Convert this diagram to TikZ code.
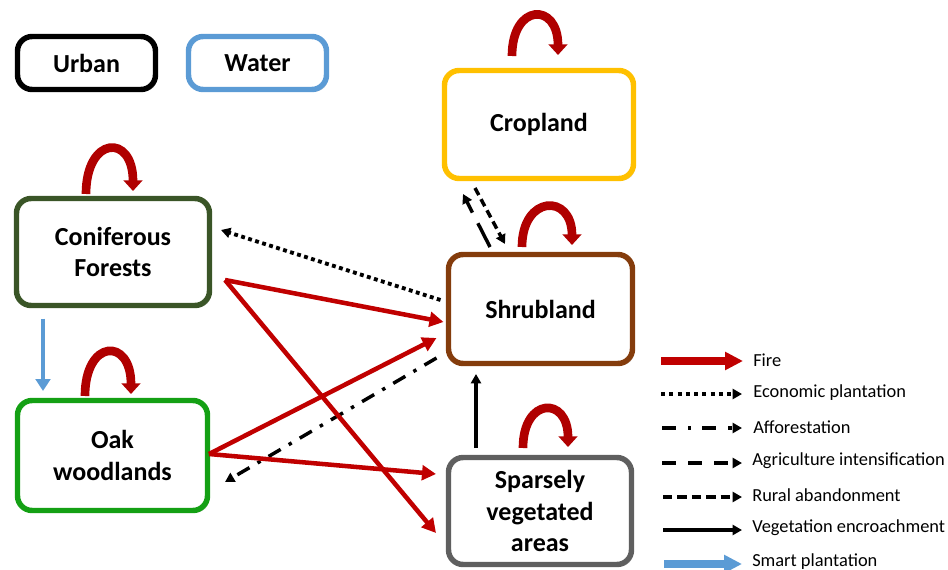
\documentclass[tikz,border=0pt]{standalone}
\usepackage{fontspec}
\setmainfont{Carlito}
\usetikzlibrary{arrows.meta,shadows}
\definecolor{firered}{HTML}{C00000}
\definecolor{loopred}{HTML}{B00000}
\definecolor{waterblue}{HTML}{5B9BD5}
\definecolor{cropyellow}{HTML}{FFC000}
\definecolor{conifgreen}{HTML}{3A5527}
\definecolor{shrubbrown}{HTML}{843C0C}
\definecolor{oakgreen}{HTML}{14A014}
\definecolor{sparsegray}{HTML}{5F5F5F}
\begin{document}
\begin{tikzpicture}[x=0.75pt,y=-0.75pt,
  landbox/.style={draw, line width=4.1pt, rounded corners=11pt, fill=white, align=center,
    font=\fontsize{19.5}{23.5}\selectfont\bfseries, inner sep=0pt, outer sep=0pt,
    drop shadow={shadow xshift=1.5pt, shadow yshift=-1.8pt, opacity=0.28}},
  fireloop/.style={draw=loopred, line width=6.5pt, -{Triangle[length=8pt,width=14pt]}},
  firearrow/.style={draw=firered, line width=3.4pt, -{Triangle[length=10.5pt,width=11pt]}},
  blackhead/.style={-{Triangle[length=7pt,width=7.5pt]}},
  econline/.style={draw=black, line width=2.9pt, dash pattern=on 2.9pt off 2.6pt, blackhead},
  afforline/.style={draw=black, line width=2.6pt, dash pattern=on 10.5pt off 7pt on 2.6pt off 7pt, blackhead},
  agriline/.style={draw=black, line width=2.6pt, dash pattern=on 20pt off 9pt, blackhead},
  ruralline/.style={draw=black, line width=2.6pt, dash pattern=on 6pt off 3.5pt, blackhead},
  vegline/.style={draw=black, line width=2.6pt, blackhead},
  smartline/.style={draw=waterblue, line width=3.3pt, -{Triangle[length=9pt,width=11pt]}},
  legtext/.style={anchor=west, inner sep=0pt, font=\fontsize{13.8}{16}\selectfont}
]
\useasboundingbox (0,0) rectangle (948,570);

% boxes
\node[landbox, draw=black, minimum width=103.5pt, minimum height=39.75pt] (urban) at (86.5,63) {Urban};
\node[landbox, draw=waterblue, minimum width=103.5pt, minimum height=39.75pt] (water) at (257.5,63) {Water};
\node[landbox, draw=cropyellow, minimum width=141.75pt, minimum height=81pt] (crop) at (539,124.5) {Cropland};
\node[landbox, draw=conifgreen, minimum width=144.75pt, minimum height=80.25pt] (conif) at (113,252) {Coniferous\\Forests};
\node[landbox, draw=shrubbrown, minimum width=138pt, minimum height=81.75pt] (shrub) at (540.5,309) {Shrubland};
\node[landbox, draw=oakgreen, minimum width=142.5pt, minimum height=82.5pt] (oak) at (112.5,455.5) {Oak\\woodlands};
\node[landbox, draw=sparsegray, minimum width=137.25pt, minimum height=80.25pt] (sparse) at (540,511) {Sparsely\\vegetated\\areas};

% self loops (fire)
\draw[fireloop] ([shift={(-27,-4.5)}]conif.north) .. controls +(0,-58) and +(0,-58) .. ([shift={(20,-7.5)}]conif.north);
\draw[fireloop] ([shift={(-27.5,-4.5)}]oak.north) .. controls +(0,-57) and +(0,-57) .. ([shift={(18.5,-6.5)}]oak.north);
\draw[fireloop] ([shift={(-27,-14.5)}]crop.north) .. controls +(0,-53) and +(0,-53) .. ([shift={(19,-15.5)}]crop.north);
\draw[fireloop] ([shift={(-18.5,-7.5)}]shrub.north) .. controls +(0,-52) and +(0,-52) .. ([shift={(31.5,-9.5)}]shrub.north);
\draw[fireloop] ([shift={(-17,-9.5)}]sparse.north) .. controls +(0,-51) and +(0,-51) .. ([shift={(28,-10.5)}]sparse.north);

% connectors
\draw[smartline] ([shift={(-70,13)}]conif.south) -- ([shift={(-69.5,-9.5)}]oak.north);
\draw[econline] ([shift={(-8,-9)}]shrub.west) -- ([shift={(11.5,-22)}]conif.east);
\draw[afforline] ([shift={(-12,49)}]shrub.west) -- ([shift={(17.5,26.5)}]oak.east);
\draw[firearrow] ([shift={(15.5,28)}]conif.east) -- ([shift={(-5,13)}]shrub.west);
\draw[firearrow] ([shift={(15.5,28)}]conif.east) -- ([shift={(-12.5,22)}]sparse.west);
\draw[firearrow] ([shift={(1.5,-1.5)}]oak.east) -- ([shift={(-12,29)}]shrub.west);
\draw[firearrow] ([shift={(1.5,-1.5)}]oak.east) -- ([shift={(-12.5,-37)}]sparse.west);
\draw[vegline] ([shift={(-64,-9.5)}]sparse.north) -- ([shift={(-64.5,10.5)}]shrub.south);
\draw[agriline] ([shift={(-50.5,-7.5)}]shrub.north) -- ([shift={(-76,15.5)}]crop.south);
\draw[ruralline] ([shift={(-64,9.5)}]crop.south) -- ([shift={(-35.5,-10.5)}]shrub.north);

% legend
\node[legtext] (lfire) at (753,360) {Fire};
\node[legtext] (lecon) at (753,393) {Economic plantation};
\node[legtext] (laffor) at (753,427) {Afforestation};
\node[legtext] (lagri) at (752,461) {Agriculture intensification};
\node[legtext] (lrural) at (752,495) {Rural abandonment};
\node[legtext] (lveg) at (752,528) {Vegetation encroachment};
\node[legtext] (lsmart) at (752,562) {Smart plantation};
\coordinate (sfire) at (661,361);
\coordinate (secon) at (661,394);
\coordinate (saffor) at (662,428);
\coordinate (sagri) at (662,463);
\coordinate (srural) at (663,497);
\coordinate (sveg) at (663,530);
\coordinate (ssmart) at (664,564);
\draw[draw=firered, line width=5.3pt, -{Triangle[length=13.5pt,width=13pt]}] (sfire) -- ([shift={(-10,1)}]lfire.west);
\draw[econline, dash pattern=on 3pt off 3.2pt] (secon) -- ([shift={(-11,1)}]lecon.west);
\draw[afforline, dash pattern=on 10.5pt off 9pt on 2.6pt off 8pt] (saffor) -- ([shift={(-11,1)}]laffor.west);
\draw[agriline, dash pattern=on 10.5pt off 9pt] (sagri) -- ([shift={(-10,2)}]lagri.west);
\draw[ruralline, dash pattern=on 7pt off 3.8pt] (srural) -- ([shift={(-10,2)}]lrural.west);
\draw[vegline] (sveg) -- ([shift={(-10,2)}]lveg.west);
\draw[draw=waterblue, line width=5.3pt, -{Triangle[length=13.5pt,width=13pt]}] (ssmart) -- ([shift={(-10,2)}]lsmart.west);
\end{tikzpicture}
\end{document}
